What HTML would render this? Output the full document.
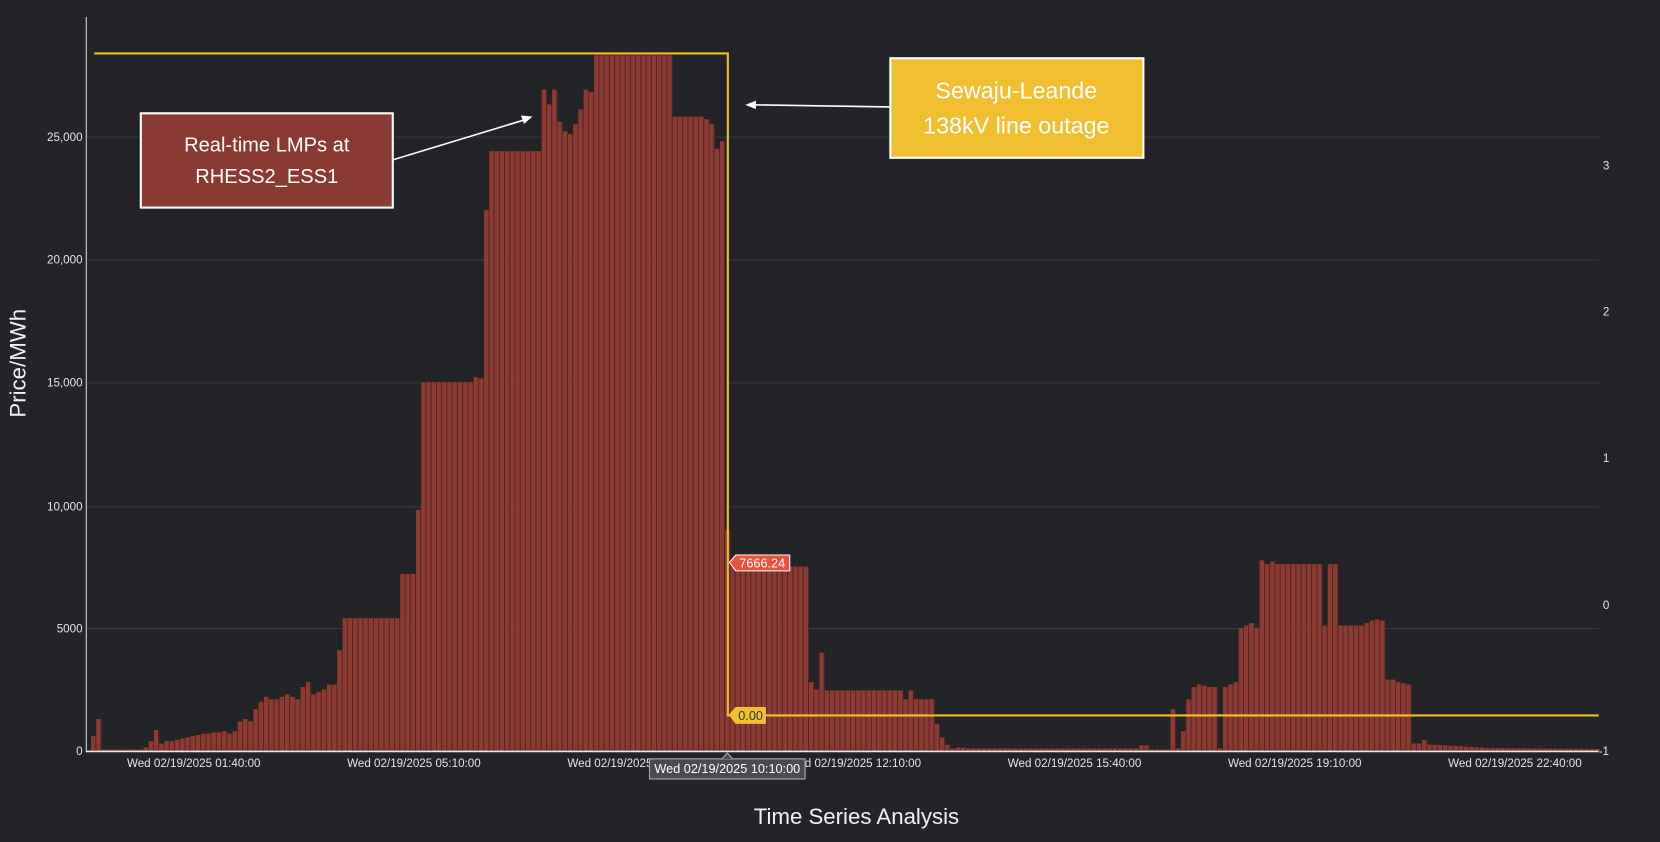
<!DOCTYPE html>
<html><head><meta charset="utf-8"><style>
html,body{margin:0;padding:0;background:#232428;}
svg{display:block;}
text{font-family:"Liberation Sans",sans-serif;}
</style></head><body>
<svg id="s" width="1660" height="842" viewBox="0 0 1568 795" preserveAspectRatio="none" xmlns="http://www.w3.org/2000/svg">
<rect width="1568" height="795" fill="#232428"/>
<g stroke="#3a3b40" stroke-width="1">
<line x1="81" x2="1510" y1="129.5" y2="129.5"/>
<line x1="81" x2="1510" y1="245.5" y2="245.5"/>
<line x1="81" x2="1510" y1="361.5" y2="361.5"/>
<line x1="81" x2="1510" y1="478.5" y2="478.5"/>
<line x1="81" x2="1510" y1="593.5" y2="593.5"/>
</g>
<g id="bars"></g>
<line x1="81.5" x2="81.5" y1="16" y2="709" stroke="#d8d8d8" stroke-width="1"/>
<line x1="81" x2="1510" y1="709.5" y2="709.5" stroke="#e8e8e8" stroke-width="1.5"/>
<g font-size="11" fill="#e6e6e6" text-anchor="end">
<text x="78" y="133">25,000</text>
<text x="78" y="249">20,000</text>
<text x="78" y="365">15,000</text>
<text x="78" y="482">10,000</text>
<text x="78" y="597">5000</text>
<text x="78" y="713">0</text>
</g>
<g font-size="11" fill="#e6e6e6">
<text x="1514" y="160">3</text>
<text x="1514" y="298">2</text>
<text x="1514" y="436">1</text>
<text x="1514" y="575">0</text>
<text x="1510" y="713">-1</text>
</g>
<g font-size="11" fill="#e6e6e6" text-anchor="middle">
<text x="183" y="724">Wed 02/19/2025 01:40:00</text>
<text x="391" y="724">Wed 02/19/2025 05:10:00</text>
<text x="599" y="724">Wed 02/19/2025 08:40:00</text>
<text x="807" y="724">Wed 02/19/2025 12:10:00</text>
<text x="1015" y="724">Wed 02/19/2025 15:40:00</text>
<text x="1223" y="724">Wed 02/19/2025 19:10:00</text>
<text x="1431" y="724">Wed 02/19/2025 22:40:00</text>
</g>
<text x="809" y="778" font-size="21" fill="#f2f2f2" text-anchor="middle">Time Series Analysis</text>
<text transform="translate(24,343) rotate(-90)" font-size="21" fill="#f2f2f2" text-anchor="middle">Price/MWh</text>
<polyline points="89,50.5 687.5,50.5 687.5,675.5 1510,675.5" fill="none" stroke="#f0be2c" stroke-width="2"/>
<path d="M689,531 L695,524 L746,524 L746,539 L695,539 Z" fill="#e8503f" stroke="#fff" stroke-width="1"/>
<text x="720" y="536" font-size="12" fill="#fff" text-anchor="middle">7666.24</text>
<path d="M689,675 L695,668 L723,668 L723,683 L695,683 Z" fill="#f0c030" stroke="#f0c030" stroke-width="1"/>
<text x="709" y="680" font-size="12" fill="#333" text-anchor="middle">0.00</text>
<rect x="613.5" y="716.5" width="147" height="19" fill="#4a4b4f" stroke="#b0b0b0"/>
<path d="M682,716.5 L687,711 L692,716.5" fill="#4a4b4f" stroke="#b0b0b0"/>
<text x="687" y="730" font-size="12" fill="#fff" text-anchor="middle">Wed 02/19/2025 10:10:00</text>
<rect x="133" y="107" width="238" height="89" fill="#8b3a33" stroke="#fff" stroke-width="2"/>
<text x="252" y="143" font-size="19" fill="#fff" text-anchor="middle">Real-time LMPs at</text>
<text x="252" y="173" font-size="19" fill="#fff" text-anchor="middle">RHESS2_ESS1</text>
<line x1="371" y1="151" x2="496" y2="113" stroke="#fff" stroke-width="1.5"/>
<path d="M503,110 L492,109 L495,117 Z" fill="#fff"/>
<rect x="841" y="55" width="239" height="94" fill="#f0c030" stroke="#fff" stroke-width="2"/>
<text x="960" y="93" font-size="22" fill="#fff" text-anchor="middle">Sewaju-Leande</text>
<text x="960" y="126" font-size="22" fill="#fff" text-anchor="middle">138kV line outage</text>
<line x1="841" y1="101" x2="712" y2="99" stroke="#fff" stroke-width="1.5"/>
<path d="M704,99 L714,95 L714,103 Z" fill="#fff"/>
</svg>
<script>
var v=[600,1300,60,60,60,60,60,60,60,60,150,400,850,300,400,400,450,500,550,600,650,700,700,750,750,800,700,800,
1200,1300,1200,1700,2000,2200,2100,2100,2200,2300,2200,2100,2600,2800,2300,2400,2500,2700,2700,4100];
for(var i=48;i<=58;i++)v[i]=5400;
v[59]=7200;v[60]=7200;v[61]=7200;v[62]=9800;v[63]=15000;
for(i=64;i<=72;i++)v[i]=15000;
v[73]=15200;v[74]=15150;v[75]=22000;
for(i=76;i<=85;i++)v[i]=24400;
var t=[26900,26300,26900,25600,25200,25100,25500,26100,26900,26800];
for(i=0;i<10;i++)v[86+i]=t[i];
for(i=96;i<=110;i++)v[i]=28300;
for(i=111;i<=116;i++)v[i]=25800;
v[117]=25700;v[118]=25500;v[119]=24500;v[120]=24800;v[121]=9000;
for(i=122;i<=136;i++)v[i]=7500;
v[137]=2800;v[138]=2500;v[139]=4000;
for(i=140;i<=154;i++)v[i]=2460;
v[155]=2100;v[156]=2460;for(i=157;i<=160;i++)v[i]=2100;
v[161]=1100;v[162]=550;v[163]=250;
for(i=164;i<=287;i++)v[i]=100;
v[165]=140;v[166]=130;v[200]=220;v[201]=220;v[202]=60;v[203]=60;v[204]=60;v[205]=60;
v[206]=1700;v[207]=100;v[208]=800;v[209]=2100;v[210]=2600;v[211]=2700;v[212]=2650;v[213]=2600;v[214]=2600;
v[215]=100;v[216]=2600;v[217]=2700;v[218]=2800;v[219]=5000;v[220]=5100;v[221]=5200;v[222]=5000;
for(i=223;i<=234;i++)v[i]=7600;v[223]=7750;v[225]=7700;
v[235]=5100;v[236]=7600;v[237]=7600;
for(i=238;i<=242;i++)v[i]=5100;
v[243]=5200;v[244]=5300;v[245]=5350;v[246]=5300;
v[247]=2900;v[248]=2900;v[249]=2800;v[250]=2750;v[251]=2700;
v[252]=300;v[253]=300;v[254]=450;for(i=255;i<=265;i++)v[i]=260-(i-255)*12;
for(i=266;i<=287;i++)v[i]=120-(i-266)*2;
var g=document.getElementById('bars'),h='';
for(i=0;i<288;i++){var x=86+i*4.95,hh=v[i]*0.02321,y=709-hh;
h+='<rect x="'+x.toFixed(2)+'" y="'+y.toFixed(2)+'" width="4.1" height="'+hh.toFixed(2)+'" fill="#8c3a33"/>';
h+='<rect x="'+(x+4.1).toFixed(2)+'" y="'+y.toFixed(2)+'" width="0.85" height="'+hh.toFixed(2)+'" fill="#5a2622"/>';}
g.innerHTML=h;
</script>
</body></html>
